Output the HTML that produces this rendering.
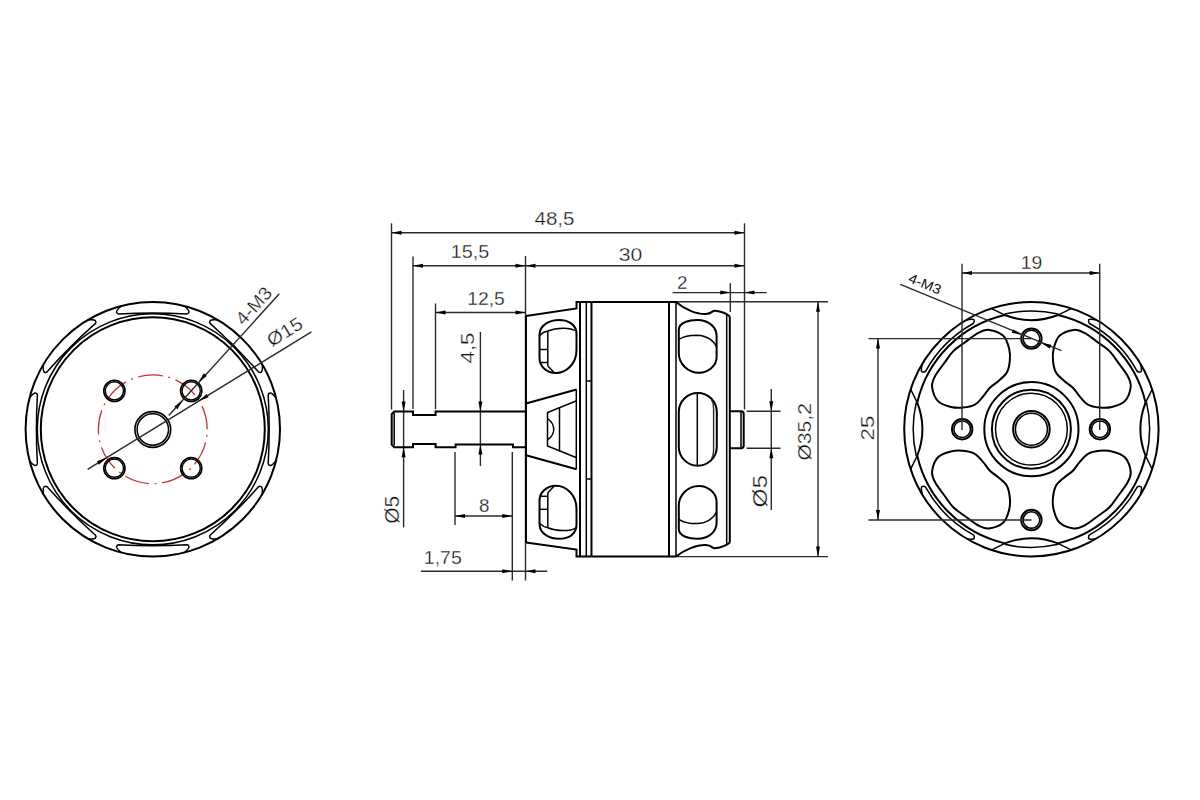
<!DOCTYPE html>
<html><head><meta charset="utf-8"><style>
html,body{margin:0;padding:0;background:#fff;width:1200px;height:800px;overflow:hidden}
svg{display:block}
.o{fill:none;stroke:#000;stroke-width:2}
.o2{fill:none;stroke:#000;stroke-width:1.5}
.d{fill:none;stroke:#2a2a2a;stroke-width:1.4}
.ah{fill:#000;stroke:none}
.red{fill:none;stroke:#cc3333;stroke-width:1.3;stroke-dasharray:24.7 5.6 1.9 5.8;stroke-dashoffset:24.7}
.t{font-family:"Liberation Sans",sans-serif;fill:#111;stroke:#fff;stroke-width:0.3}
.ts{font-family:"Liberation Sans",sans-serif;fill:#111}
</style></head><body>
<svg width="1200" height="800" viewBox="0 0 1200 800">
<rect width="1200" height="800" fill="#fff"/>
<circle class="o" cx="152.8" cy="429.3" r="127.2"/>
<circle class="o2" cx="152.8" cy="429.3" r="115.5"/>
<circle class="o" cx="152.8" cy="429.3" r="112"/>
<path class="o2" d="M121.7 305.7C119.2 307.8 116.1 310.3 116.6 312.1C116.9 313.4 117.8 313.9 118.8 313.9Q152.8 311.9 186.8 313.9C187.8 313.9 188.7 313.4 189 312.1C189.5 310.3 186.4 307.8 183.9 305.7"/>
<path class="o2" d="M218.21 319.91C214.95 319.63 210.99 319.2 210.08 320.83C209.37 321.96 209.65 322.95 210.36 323.66Q235.81 346.29 258.44 371.74C259.15 372.45 260.14 372.73 261.27 372.02C262.9 371.11 262.47 367.15 262.19 363.89"/>
<path class="o2" d="M276.4 398.2C274.3 395.7 271.8 392.6 270 393.1C268.7 393.4 268.2 394.3 268.2 395.3Q270.2 429.3 268.2 463.3C268.2 464.3 268.7 465.2 270 465.5C271.8 466 274.3 462.9 276.4 460.4"/>
<path class="o2" d="M262.19 494.71C262.47 491.45 262.9 487.49 261.27 486.58C260.14 485.87 259.15 486.15 258.44 486.86Q235.81 512.31 210.36 534.94C209.65 535.65 209.37 536.64 210.08 537.77C210.99 539.4 214.95 538.97 218.21 538.69"/>
<path class="o2" d="M183.9 552.9C186.4 550.8 189.5 548.3 189 546.5C188.7 545.2 187.8 544.7 186.8 544.7Q152.8 546.7 118.8 544.7C117.8 544.7 116.9 545.2 116.6 546.5C116.1 548.3 119.2 550.8 121.7 552.9"/>
<path class="o2" d="M87.39 538.69C90.65 538.97 94.61 539.4 95.52 537.77C96.23 536.64 95.95 535.65 95.24 534.94Q69.79 512.31 47.16 486.86C46.45 486.15 45.46 485.87 44.33 486.58C42.7 487.49 43.13 491.45 43.41 494.71"/>
<path class="o2" d="M29.2 460.4C31.3 462.9 33.8 466 35.6 465.5C36.9 465.2 37.4 464.3 37.4 463.3Q35.4 429.3 37.4 395.3C37.4 394.3 36.9 393.4 35.6 393.1C33.8 392.6 31.3 395.7 29.2 398.2"/>
<path class="o2" d="M43.41 363.89C43.13 367.15 42.7 371.11 44.33 372.02C45.46 372.73 46.45 372.45 47.16 371.74Q69.79 346.29 95.24 323.66C95.95 322.95 96.23 321.96 95.52 320.83C94.61 319.2 90.65 319.63 87.39 319.91"/>
<circle class="red" cx="152.8" cy="429.3" r="54.4"/>
<circle cx="152.8" cy="429.5" r="17.9" fill="none" stroke="#000" stroke-width="1.6"/>
<circle cx="152.8" cy="429.5" r="15.7" fill="none" stroke="#000" stroke-width="1.5"/>
<circle cx="114.4" cy="390.9" r="10.6" fill="none" stroke="#000" stroke-width="1.6"/>
<circle cx="114.4" cy="390.9" r="9.1" fill="none" stroke="#000" stroke-width="1.4"/>
<circle cx="114.4" cy="468.2" r="10.6" fill="none" stroke="#000" stroke-width="1.6"/>
<circle cx="114.4" cy="468.2" r="9.1" fill="none" stroke="#000" stroke-width="1.4"/>
<circle cx="191.2" cy="390.9" r="10.6" fill="none" stroke="#000" stroke-width="1.6"/>
<circle cx="191.2" cy="390.9" r="9.1" fill="none" stroke="#000" stroke-width="1.4"/>
<circle cx="191.2" cy="468.2" r="10.6" fill="none" stroke="#000" stroke-width="1.6"/>
<circle cx="191.2" cy="468.2" r="9.1" fill="none" stroke="#000" stroke-width="1.4"/>
<line class="d" x1="279.3" y1="293.8" x2="168.75" y2="415.5"/>
<path class="ah" d="M198.6 382L203.85 373.25L206.81 375.94Z"/>
<path class="ah" d="M182.6 400.4L177.35 409.15L174.39 406.46Z"/>
<line class="d" x1="311.4" y1="331.9" x2="87.6" y2="469.4"/>
<path class="ah" d="M199.15 400.82L206.62 393.88L208.72 397.29Z"/>
<path class="ah" d="M106.45 457.78L98.98 464.72L96.88 461.31Z"/>
<text class="t" x="258.4" y="310.1" font-size="18.5" text-anchor="middle" textLength="44" lengthAdjust="spacingAndGlyphs" transform="rotate(-47.7 258.4 310.1)">4-M3</text>
<text class="t" x="288" y="337.2" font-size="18.5" text-anchor="middle" textLength="38" lengthAdjust="spacingAndGlyphs" transform="rotate(-31.7 288 337.2)">Ø15</text>
<line class="d" x1="391.5" y1="223.3" x2="391.5" y2="409.5"/>
<line class="d" x1="413" y1="256.4" x2="413" y2="409"/>
<line class="d" x1="435.5" y1="303.5" x2="435.5" y2="409"/>
<line class="d" x1="525.5" y1="256" x2="525.5" y2="580.5"/>
<line class="d" x1="744.5" y1="223.3" x2="744.5" y2="409.5"/>
<line class="d" x1="391.5" y1="232.7" x2="744.5" y2="232.7"/>
<path class="ah" d="M391.5 232.7L401.5 230.7L401.5 234.7Z"/>
<path class="ah" d="M744.5 232.7L734.5 234.7L734.5 230.7Z"/>
<text class="t" x="554.5" y="224.8" font-size="18.5" text-anchor="middle" textLength="40" lengthAdjust="spacingAndGlyphs">48,5</text>
<line class="d" x1="413" y1="265.7" x2="744.5" y2="265.7"/>
<path class="ah" d="M413 265.7L423 263.7L423 267.7Z"/>
<path class="ah" d="M525.5 265.7L515.5 267.7L515.5 263.7Z"/>
<path class="ah" d="M525.5 265.7L535.5 263.7L535.5 267.7Z"/>
<path class="ah" d="M744.5 265.7L734.5 267.7L734.5 263.7Z"/>
<text class="t" x="470" y="258.2" font-size="18.5" text-anchor="middle" textLength="38.5" lengthAdjust="spacingAndGlyphs">15,5</text>
<text class="t" x="630.5" y="260.5" font-size="18.5" text-anchor="middle" textLength="23.5" lengthAdjust="spacingAndGlyphs">30</text>
<line class="d" x1="435.5" y1="312.5" x2="525.5" y2="312.5"/>
<path class="ah" d="M435.5 312.5L445.5 310.5L445.5 314.5Z"/>
<path class="ah" d="M525.5 312.5L515.5 314.5L515.5 310.5Z"/>
<text class="t" x="486" y="304.7" font-size="18.5" text-anchor="middle" textLength="37.5" lengthAdjust="spacingAndGlyphs">12,5</text>
<line class="d" x1="672.6" y1="292.6" x2="766.8" y2="292.6"/>
<path class="ah" d="M730.3 292.6L720.3 294.6L720.3 290.6Z"/>
<path class="ah" d="M744.5 292.6L754.5 290.6L754.5 294.6Z"/>
<line class="d" x1="730.3" y1="283.3" x2="730.3" y2="312"/>
<text class="t" x="682.2" y="288.5" font-size="18.5" text-anchor="middle" textLength="10.5" lengthAdjust="spacingAndGlyphs">2</text>
<line class="d" x1="480.4" y1="332" x2="480.4" y2="466"/>
<path class="ah" d="M480.4 411.6L478.4 401.6L482.4 401.6Z"/>
<path class="ah" d="M480.4 444.4L482.4 454.4L478.4 454.4Z"/>
<text class="t" x="473.6" y="348" font-size="18.5" text-anchor="middle" textLength="31" lengthAdjust="spacingAndGlyphs" transform="rotate(-90 473.6 348)">4,5</text>
<line class="d" x1="403.6" y1="390" x2="403.6" y2="527.4"/>
<path class="ah" d="M403.6 411.6L401.6 401.6L405.6 401.6Z"/>
<path class="ah" d="M403.6 447.2L405.6 457.2L401.6 457.2Z"/>
<text class="t" x="399.4" y="509.8" font-size="20" text-anchor="middle" textLength="28" lengthAdjust="spacingAndGlyphs" transform="rotate(-90 399.4 509.8)">Ø5</text>
<line class="d" x1="455" y1="452" x2="455" y2="525"/>
<line class="d" x1="512.3" y1="452" x2="512.3" y2="580.5"/>
<line class="d" x1="455" y1="516" x2="512.3" y2="516"/>
<path class="ah" d="M455 516L465 514L465 518Z"/>
<path class="ah" d="M512.3 516L502.3 518L502.3 514Z"/>
<text class="t" x="484.3" y="511.8" font-size="18.5" text-anchor="middle" textLength="10.5" lengthAdjust="spacingAndGlyphs">8</text>
<line class="d" x1="421" y1="571.3" x2="547.3" y2="571.3"/>
<path class="ah" d="M512.3 571.3L502.3 573.3L502.3 569.3Z"/>
<path class="ah" d="M525.5 571.3L535.5 569.3L535.5 573.3Z"/>
<text class="t" x="442.8" y="563.5" font-size="18.5" text-anchor="middle" textLength="38" lengthAdjust="spacingAndGlyphs">1,75</text>
<line class="d" x1="746.75" y1="411.3" x2="780.5" y2="411.3"/>
<line class="d" x1="746.75" y1="448.2" x2="780.5" y2="448.2"/>
<line class="d" x1="771.3" y1="389" x2="771.3" y2="510"/>
<path class="ah" d="M771.3 411.3L769.3 401.3L773.3 401.3Z"/>
<path class="ah" d="M771.3 448.2L773.3 458.2L769.3 458.2Z"/>
<text class="t" x="767.2" y="491.2" font-size="21" text-anchor="middle" textLength="32.5" lengthAdjust="spacingAndGlyphs" transform="rotate(-90 767.2 491.2)">Ø5</text>
<line class="d" x1="676" y1="301.7" x2="828" y2="301.7"/>
<line class="d" x1="676" y1="556.6" x2="828" y2="556.6"/>
<line class="d" x1="818" y1="301.7" x2="818" y2="556.6"/>
<path class="ah" d="M818 301.7L820 311.7L816 311.7Z"/>
<path class="ah" d="M818 556.6L816 546.6L820 546.6Z"/>
<text class="t" x="810.6" y="431.8" font-size="18.5" text-anchor="middle" textLength="57.5" lengthAdjust="spacingAndGlyphs" transform="rotate(-90 810.6 431.8)">Ø35,2</text>
<path class="o" d="M526 411.6L435.6 411.6L435.6 415L413 415L413 411.6L394.2 411.6L391.7 414.1L391.7 444.6L394.2 447.2L413 447.2L413 444L435.6 444L435.6 447.2L455.6 447.2L455.6 444.4L513 444.4L513 447.2L526 447.2"/>
<line class="o2" x1="394.2" y1="413" x2="394.2" y2="445.5"/>
<line class="o" x1="526" y1="316" x2="526" y2="542.5"/>
<path class="o" d="M526 316L576.5 308.5L576.5 302L591.5 302"/>
<path class="o" d="M526 542.6L576.5 549.5L576.5 556.6L591.5 556.6"/>
<line class="o" x1="580" y1="302" x2="580" y2="556.6"/>
<line class="o2" x1="586.3" y1="302" x2="586.3" y2="556.6"/>
<path class="o" d="M591.5 302L591.5 556.6"/>
<path class="o" d="M591.5 302L676 302M591.5 556.6L676 556.6"/>
<line class="o" x1="669" y1="302" x2="669" y2="556.6"/>
<line class="o2" x1="676" y1="302" x2="676" y2="556.6"/>
<line class="o2" x1="586.3" y1="381" x2="591.5" y2="381"/>
<line class="o2" x1="586.3" y1="479" x2="591.5" y2="479"/>
<path class="o" d="M676 302C684 309 697 314.5 706 314C712 313.8 712 310.5 715 310.8C721 311.5 726 313 729.8 316.5"/>
<path class="o" d="M676 556.6C684 550 697 544.5 706 545C712 545.3 712 548.5 715 548.2C721 547.5 726 546 729.8 542.5"/>
<line class="o" x1="729.8" y1="316.5" x2="729.8" y2="542.5"/>
<line class="o2" x1="726.7" y1="314" x2="726.7" y2="545"/>
<path class="o" d="M729.8 411.3L741 411.3Q743.7 411.3 743.7 414L743.7 445.5Q743.7 448.2 741 448.2L729.8 448.2"/>
<line class="o2" x1="741" y1="412" x2="741" y2="447.5"/>
<path class="o" d="M539.5 335C539.5 324 551 320 559 320C569 320 576.5 325 576.5 334L576.5 350C576.5 364 566 373 556 373C546 373 539.5 366 539.5 358Z"/>
<path class="o2" d="M539.5 335.5C542 333 545 331.5 547.8 331C556 327.5 570 327 576 331"/>
<line class="o2" x1="547.8" y1="331" x2="547.8" y2="366"/>
<line class="o2" x1="539.5" y1="349.5" x2="547.8" y2="349.5"/>
<line class="o2" x1="539.5" y1="362.5" x2="547.8" y2="362.5"/>
<path class="o2" d="M547.8 366L554 372.5"/>
<path class="o" d="M539.5 523.8C539.5 534.8 551 538.8 559 538.8C569 538.8 576.5 533.8 576.5 524.8L576.5 508.8C576.5 494.8 566 485.8 556 485.8C546 485.8 539.5 492.8 539.5 500.8Z"/>
<path class="o2" d="M539.5 523.3C542 525.8 545 527.3 547.8 527.8C556 531.3 570 531.8 576 527.8"/>
<line class="o2" x1="547.8" y1="527.8" x2="547.8" y2="492.8"/>
<line class="o2" x1="539.5" y1="509.3" x2="547.8" y2="509.3"/>
<line class="o2" x1="539.5" y1="496.3" x2="547.8" y2="496.3"/>
<path class="o2" d="M547.8 492.8L554 486.3"/>
<path class="o" d="M526 403.5L576.5 389.5M526 455.2L576.5 469.2"/>
<path class="o2" d="M576 401L547.5 412.5L547.5 446L576 457.5"/>
<path class="o2" d="M547.5 418.5C551.5 421.5 553.8 425.5 553.8 429.2C553.8 433 551.5 437 547.5 440"/>
<line class="o2" x1="559.5" y1="407.2" x2="559.5" y2="451.5"/>
<line class="o2" x1="576.3" y1="389.5" x2="576.3" y2="469.2"/>
<path class="o" d="M678.8 330C678.8 322 690 320 697 320C710 320 716.6 328 716.6 336L716.6 357C716.6 366 708 372.8 699 372.8C688 372.8 678.8 364 678.8 353Z"/>
<path class="o2" d="M678.8 339.5C684 336 690 335.2 697 335.2C707 335.5 714 341 716.6 347"/>
<path class="o" d="M678.8 528.8C678.8 536.8 690 538.8 697 538.8C710 538.8 716.6 530.8 716.6 522.8L716.6 501.8C716.6 492.8 708 486 699 486C688 486 678.8 494.8 678.8 505.8Z"/>
<path class="o2" d="M678.8 519.3C684 522.8 690 523.6 697 523.6C707 523.3 714 517.8 716.6 511.8"/>
<path class="o" d="M678.8 412C678.8 401.5 687.3 393 697.8 393C708.3 393 716.8 401.5 716.8 412L716.8 446.7C716.8 457.2 708.3 465.7 697.8 465.7C687.3 465.7 678.8 457.2 678.8 446.7Z"/>
<line class="o2" x1="697.3" y1="393" x2="697.3" y2="465.7"/>
<path class="d" d="M711.5 399.5C713 402 713.6 405 713.6 409L713.6 450C713.6 453.5 713 456.5 711.5 459"/>
<circle class="o" cx="1031.4" cy="429.2" r="127.2"/>
<path class="o" d="M1145.55 402.64A117.2 117.2 0 0 0 1057.96 315.05"/>
<line class="o2" x1="1152.05" y1="389.53" x2="1145.55" y2="402.64"/>
<line class="o2" x1="1152.05" y1="468.87" x2="1145.55" y2="455.76"/>
<path class="o2" d="M1146.52 402.41A118.2 118.2 0 0 1 1146.52 455.99"/>
<path class="o" d="M1145.55 402.64Q1135.2 429.2 1145.55 455.76"/>
<path class="o2" d="M1096.48 320.03C1092.49 319 1088.69 318.67 1088.67 320.12C1088.39 321.1 1088.58 322.56 1089.5 323.52A120.4 120.4 0 0 1 1137.08 371.1C1138.04 372.02 1139.5 372.21 1140.48 371.93C1141.93 371.91 1141.6 368.11 1140.57 364.12"/>
<path class="o" d="M1004.84 315.05A117.2 117.2 0 0 0 917.25 402.64"/>
<line class="o2" x1="991.73" y1="308.55" x2="1004.84" y2="315.05"/>
<line class="o2" x1="1071.07" y1="308.55" x2="1057.96" y2="315.05"/>
<path class="o2" d="M1004.61 314.08A118.2 118.2 0 0 1 1058.19 314.08"/>
<path class="o" d="M1004.84 315.05Q1031.4 325.4 1057.96 315.05"/>
<path class="o2" d="M922.23 364.12C921.2 368.11 920.87 371.91 922.32 371.93C923.3 372.21 924.76 372.02 925.72 371.1A120.4 120.4 0 0 1 973.3 323.52C974.22 322.56 974.41 321.1 974.13 320.12C974.11 318.67 970.31 319 966.32 320.03"/>
<path class="o" d="M917.25 455.76A117.2 117.2 0 0 0 1004.84 543.35"/>
<line class="o2" x1="910.75" y1="468.87" x2="917.25" y2="455.76"/>
<line class="o2" x1="910.75" y1="389.53" x2="917.25" y2="402.64"/>
<path class="o2" d="M916.28 455.99A118.2 118.2 0 0 1 916.28 402.41"/>
<path class="o" d="M917.25 455.76Q927.6 429.2 917.25 402.64"/>
<path class="o2" d="M966.32 538.37C970.31 539.4 974.11 539.73 974.13 538.28C974.41 537.3 974.22 535.84 973.3 534.88A120.4 120.4 0 0 1 925.72 487.3C924.76 486.38 923.3 486.19 922.32 486.47C920.87 486.49 921.2 490.29 922.23 494.28"/>
<path class="o" d="M1057.96 543.35A117.2 117.2 0 0 0 1145.55 455.76"/>
<line class="o2" x1="1071.07" y1="549.85" x2="1057.96" y2="543.35"/>
<line class="o2" x1="991.73" y1="549.85" x2="1004.84" y2="543.35"/>
<path class="o2" d="M1058.19 544.32A118.2 118.2 0 0 1 1004.61 544.32"/>
<path class="o" d="M1057.96 543.35Q1031.4 533 1004.84 543.35"/>
<path class="o2" d="M1140.57 494.28C1141.6 490.29 1141.93 486.49 1140.48 486.47C1139.5 486.19 1138.04 486.38 1137.08 487.3A120.4 120.4 0 0 1 1089.5 534.88C1088.58 535.84 1088.39 537.3 1088.67 538.28C1088.69 539.73 1092.49 539.4 1096.48 538.37"/>
<path class="o" d="M953.3 351.1C956.46 347.94 959.93 345.98 964.1 342.95C968.27 339.92 974.15 335.07 978.3 332.9C982.45 330.72 984.83 329.42 989 329.9C993.17 330.38 999.93 332.63 1003.3 335.8C1006.67 338.97 1008.12 344.73 1009.2 348.9C1010.28 353.07 1010.2 356.85 1009.8 360.8C1009.4 364.75 1008.68 369.23 1006.8 372.6C1004.92 375.97 1001.32 378.48 998.5 381C995.68 383.52 992.45 385.15 989.9 387.7C987.35 390.25 985.72 393.48 983.2 396.3C980.68 399.12 978.17 402.72 974.8 404.6C971.43 406.48 966.95 407.2 963 407.6C959.05 408 955.27 408.08 951.1 407C946.93 405.92 941.17 404.47 938 401.1C934.83 397.73 932.58 390.97 932.1 386.8C931.62 382.63 932.93 380.25 935.1 376.1C937.28 371.95 942.12 366.07 945.15 361.9C948.18 357.73 950.14 354.26 953.3 351.1Z"/>
<path class="o" d="M1109.5 351.1C1112.66 354.26 1114.62 357.73 1117.65 361.9C1120.68 366.07 1125.53 371.95 1127.7 376.1C1129.88 380.25 1131.18 382.63 1130.7 386.8C1130.22 390.97 1127.97 397.73 1124.8 401.1C1121.63 404.47 1115.87 405.92 1111.7 407C1107.53 408.08 1103.75 408 1099.8 407.6C1095.85 407.2 1091.37 406.48 1088 404.6C1084.63 402.72 1082.12 399.12 1079.6 396.3C1077.08 393.48 1075.45 390.25 1072.9 387.7C1070.35 385.15 1067.12 383.52 1064.3 381C1061.48 378.48 1057.88 375.97 1056 372.6C1054.12 369.23 1053.4 364.75 1053 360.8C1052.6 356.85 1052.52 353.07 1053.6 348.9C1054.68 344.73 1056.13 338.97 1059.5 335.8C1062.87 332.63 1069.63 330.38 1073.8 329.9C1077.97 329.42 1080.35 330.72 1084.5 332.9C1088.65 335.07 1094.53 339.92 1098.7 342.95C1102.87 345.98 1106.34 347.94 1109.5 351.1Z"/>
<path class="o" d="M1109.5 507.3C1106.34 510.46 1102.87 512.42 1098.7 515.45C1094.53 518.48 1088.65 523.33 1084.5 525.5C1080.35 527.67 1077.97 528.98 1073.8 528.5C1069.63 528.02 1062.87 525.77 1059.5 522.6C1056.13 519.43 1054.68 513.67 1053.6 509.5C1052.52 505.33 1052.6 501.55 1053 497.6C1053.4 493.65 1054.12 489.17 1056 485.8C1057.88 482.43 1061.48 479.92 1064.3 477.4C1067.12 474.88 1070.35 473.25 1072.9 470.7C1075.45 468.15 1077.08 464.92 1079.6 462.1C1082.12 459.28 1084.63 455.68 1088 453.8C1091.37 451.92 1095.85 451.2 1099.8 450.8C1103.75 450.4 1107.53 450.32 1111.7 451.4C1115.87 452.48 1121.63 453.93 1124.8 457.3C1127.97 460.67 1130.22 467.43 1130.7 471.6C1131.18 475.77 1129.88 478.15 1127.7 482.3C1125.53 486.45 1120.68 492.33 1117.65 496.5C1114.62 500.67 1112.66 504.14 1109.5 507.3Z"/>
<path class="o" d="M953.3 507.3C950.14 504.14 948.18 500.67 945.15 496.5C942.12 492.33 937.28 486.45 935.1 482.3C932.93 478.15 931.62 475.77 932.1 471.6C932.58 467.43 934.83 460.67 938 457.3C941.17 453.93 946.93 452.48 951.1 451.4C955.27 450.32 959.05 450.4 963 450.8C966.95 451.2 971.43 451.92 974.8 453.8C978.17 455.68 980.68 459.28 983.2 462.1C985.72 464.92 987.35 468.15 989.9 470.7C992.45 473.25 995.68 474.88 998.5 477.4C1001.32 479.92 1004.92 482.43 1006.8 485.8C1008.68 489.17 1009.4 493.65 1009.8 497.6C1010.2 501.55 1010.28 505.33 1009.2 509.5C1008.12 513.67 1006.67 519.43 1003.3 522.6C999.93 525.77 993.17 528.02 989 528.5C984.83 528.98 982.45 527.67 978.3 525.5C974.15 523.33 968.27 518.48 964.1 515.45C959.93 512.42 956.46 510.46 953.3 507.3Z"/>
<circle class="o" cx="1031.4" cy="429.2" r="47.1"/>
<circle class="o" cx="1031.4" cy="429.2" r="39.5"/>
<circle class="o2" cx="1031.4" cy="429.2" r="35.9"/>
<circle class="o" cx="1031.4" cy="429.2" r="18.3"/>
<circle class="o2" cx="1031.4" cy="429.2" r="16"/>
<circle class="o" cx="1031.4" cy="338.6" r="10.2"/>
<circle class="o2" cx="1031.4" cy="338.6" r="8.3"/>
<circle class="o" cx="1031.4" cy="520" r="10.2"/>
<circle class="o2" cx="1031.4" cy="520" r="8.3"/>
<circle class="o" cx="962.2" cy="429.2" r="10.2"/>
<circle class="o2" cx="962.2" cy="429.2" r="8.3"/>
<circle class="o" cx="1099.9" cy="429.2" r="10.2"/>
<circle class="o2" cx="1099.9" cy="429.2" r="8.3"/>
<line class="d" x1="962" y1="263.7" x2="962" y2="430"/>
<line class="d" x1="1099.7" y1="263.7" x2="1099.7" y2="430"/>
<line class="d" x1="962" y1="273" x2="1099.7" y2="273"/>
<path class="ah" d="M962 273L972 271L972 275Z"/>
<path class="ah" d="M1099.7 273L1089.7 275L1089.7 271Z"/>
<text class="t" x="1031.4" y="268.5" font-size="18.5" text-anchor="middle" textLength="21.5" lengthAdjust="spacingAndGlyphs">19</text>
<line class="d" x1="868.4" y1="338.6" x2="1031.5" y2="338.6"/>
<line class="d" x1="868.4" y1="520" x2="1031.5" y2="520"/>
<line class="d" x1="878" y1="338.6" x2="878" y2="520"/>
<path class="ah" d="M878 338.6L880 348.6L876 348.6Z"/>
<path class="ah" d="M878 520L876 510L880 510Z"/>
<text class="t" x="874.3" y="428" font-size="18.5" text-anchor="middle" textLength="24.8" lengthAdjust="spacingAndGlyphs" transform="rotate(-90 874.3 428)">25</text>
<line class="d" x1="900.3" y1="284.3" x2="1061.5" y2="350.7"/>
<path class="ah" d="M1021.6 334.8L1011.59 332.84L1013.11 329.14Z"/>
<path class="ah" d="M1041.3 342.9L1051.31 344.86L1049.79 348.56Z"/>
<text class="ts" x="923.2" y="288.3" font-size="13.5" text-anchor="middle" textLength="34" lengthAdjust="spacingAndGlyphs" transform="rotate(22.4 923.2 288.3)">4-M3</text>
</svg></body></html>
